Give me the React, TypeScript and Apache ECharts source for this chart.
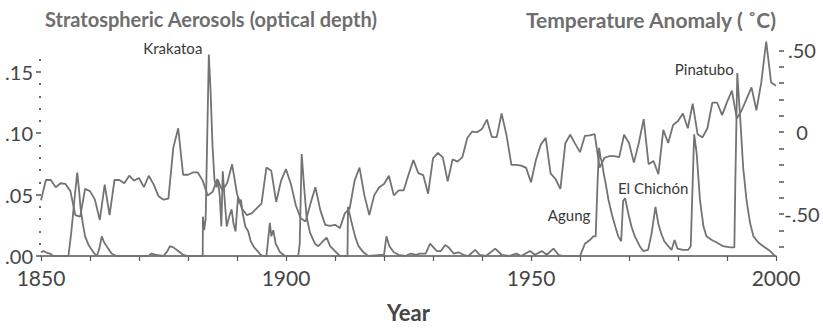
import React, { useEffect, useRef } from "react";
import * as echarts from "echarts";

// Global temperature anomaly (°C), one value per year from 1850 to 2000
const tempStartYear = 1850;
const temperature = [
  -0.416, -0.292, -0.292, -0.336, -0.312, -0.316, -0.36, -0.506, -0.516, -0.346,
  -0.36, -0.412, -0.536, -0.32, -0.506, -0.292, -0.292, -0.312, -0.266, -0.296,
  -0.28, -0.336, -0.266, -0.32, -0.392, -0.412, -0.406, -0.096, 0.024, -0.26,
  -0.26, -0.246, -0.246, -0.296, -0.386, -0.366, -0.286, -0.356, -0.31, -0.196,
  -0.376, -0.466, -0.506, -0.496, -0.466, -0.436, -0.216, -0.236, -0.426, -0.296,
  -0.226, -0.316, -0.446, -0.526, -0.546, -0.436, -0.336, -0.476, -0.566, -0.572,
  -0.566, -0.586, -0.496, -0.466, -0.296, -0.216, -0.386, -0.506, -0.386, -0.336,
  -0.316, -0.266, -0.386, -0.356, -0.356, -0.26, -0.17, -0.25, -0.262, -0.376,
  -0.16, -0.126, -0.154, -0.3, -0.166, -0.18, -0.152, -0.036, 0.004, 0.0,
  0.02, 0.077, -0.03, -0.03, 0.114, -0.018, -0.2, -0.2, -0.204, -0.218,
  -0.306, -0.17, -0.076, -0.034, -0.252, -0.286, -0.346, -0.068, -0.016, -0.07,
  -0.122, -0.022, -0.02, -0.012, -0.216, -0.156, -0.146, -0.146, -0.152, -0.016,
  -0.066, -0.186, -0.066, 0.08, -0.196, -0.176, -0.256, 0.014, -0.066, 0.044,
  0.068, 0.114, 0.024, 0.174, -0.012, -0.032, 0.024, 0.18, 0.18, 0.104,
  0.184, 0.254, 0.084, 0.134, 0.204, 0.274, 0.134, 0.304, 0.554, 0.304,
  0.284,
];

// Stratospheric aerosol optical depth, sampled unevenly in time
const aerosolYears = [
  1850.0, 1850.5, 1851.0, 1851.8, 1852.5, 1855.6, 1856.2, 1856.8, 1857.4, 1857.8,
  1858.1, 1858.6, 1859.0, 1859.7, 1860.7, 1861.4, 1861.9, 1862.4, 1862.9, 1863.4,
  1864.4, 1865.4, 1872.0, 1872.5, 1873.5, 1875.0, 1875.8, 1876.3, 1877.0, 1878.0,
  1879.0, 1880.0, 1883.0, 1883.05, 1883.3, 1883.6, 1884.25, 1884.6, 1885.0, 1885.4,
  1885.8, 1886.1, 1886.5, 1886.8, 1887.1, 1887.5, 1887.9, 1888.4, 1888.9, 1889.3,
  1889.7, 1890.2, 1890.5, 1890.8, 1891.2, 1891.7, 1892.3, 1892.8, 1893.5, 1894.2,
  1894.8, 1895.5, 1896.0, 1896.4, 1896.7, 1897.0, 1897.4, 1897.9, 1898.8, 1899.8,
  1902.5, 1902.8, 1903.2, 1903.7, 1904.2, 1904.9, 1905.9, 1906.6, 1907.3, 1908.3,
  1909.0, 1910.0, 1911.0, 1912.55, 1912.65, 1913.4, 1914.1, 1914.8, 1915.8, 1916.8,
  1920.0, 1920.5, 1921.1, 1922.0, 1923.0, 1924.3, 1925.5, 1926.5, 1927.3, 1928.5,
  1929.4, 1930.1, 1930.8, 1931.6, 1932.5, 1933.2, 1934.2, 1935.2, 1936.2, 1937.2,
  1938.6, 1939.5, 1940.8, 1942.7, 1944.0, 1945.5, 1947.0, 1948.0, 1949.8, 1950.8,
  1952.2, 1953.2, 1954.6, 1955.6, 1956.6, 1960.0, 1960.4, 1961.0, 1962.0, 1962.7,
  1963.2, 1963.6, 1963.9, 1964.2, 1964.5, 1964.8, 1965.2, 1965.8, 1966.5, 1967.2,
  1967.8, 1968.4, 1968.8, 1969.2, 1969.9, 1970.5, 1971.2, 1972.2, 1972.9, 1973.9,
  1974.6, 1975.4, 1976.0, 1976.6, 1977.2, 1978.0, 1978.7, 1979.3, 1979.9, 1981.0,
  1982.1, 1982.6, 1983.0, 1983.3, 1983.8, 1984.5, 1985.2, 1985.8, 1986.9, 1987.9,
  1989.2, 1990.6, 1991.5, 1991.7, 1992.1, 1992.4, 1992.7, 1993.3, 1994.0, 1994.7,
  1995.4, 1996.4, 1997.4, 1998.8, 1999.8, 2000.0,
];
const aerosolDepth = [
  0.003, 0.004, 0.003, 0.002, 0.0, 0.0, 0.02, 0.045, 0.068, 0.052,
  0.038, 0.025, 0.016, 0.009, 0.003, 0.0, 0.006, 0.016, 0.011, 0.008,
  0.002, 0.0, 0.0, 0.002, 0.001, 0.0, 0.004, 0.008, 0.007, 0.004,
  0.001, 0.0, 0.0, 0.032, 0.021, 0.03, 0.164, 0.135, 0.09, 0.062,
  0.056, 0.062, 0.048, 0.024, 0.069, 0.045, 0.024, 0.032, 0.038, 0.026,
  0.02, 0.048, 0.043, 0.046, 0.034, 0.024, 0.02, 0.012, 0.007, 0.004,
  0.001, 0.0, 0.0, 0.015, 0.027, 0.016, 0.021, 0.01, 0.003, 0.0,
  0.0, 0.01, 0.083, 0.056, 0.032, 0.019, 0.01, 0.008, 0.011, 0.015,
  0.008, 0.004, 0.0, 0.0, 0.04, 0.027, 0.016, 0.008, 0.003, 0.0,
  0.001, 0.016, 0.008, 0.003, 0.001, 0.0, 0.002, 0.001, 0.002, 0.002,
  0.01, 0.007, 0.004, 0.004, 0.009, 0.007, 0.002, 0.003, 0.001, 0.0,
  0.005, 0.001, 0.0, 0.006, 0.001, 0.0, 0.002, 0.0, 0.004, 0.001,
  0.004, 0.001, 0.006, 0.001, 0.0, 0.0, 0.004, 0.01, 0.013, 0.016,
  0.016, 0.062, 0.088, 0.08, 0.076, 0.068, 0.06, 0.046, 0.034, 0.024,
  0.016, 0.012, 0.045, 0.047, 0.034, 0.024, 0.016, 0.008, 0.004, 0.005,
  0.018, 0.04, 0.026, 0.018, 0.012, 0.008, 0.005, 0.013, 0.006, 0.005,
  0.005, 0.008, 0.06, 0.099, 0.084, 0.045, 0.024, 0.016, 0.013, 0.011,
  0.008, 0.007, 0.007, 0.06, 0.149, 0.13, 0.112, 0.072, 0.045, 0.027,
  0.016, 0.011, 0.008, 0.004, 0.0, 0.0,
];

// Named eruptions, placed at their aerosol peaks
const eruptionNames = ["Krakatoa", "Agung", "El Chichón", "Pinatubo"];
const eruptionYears = [1884.25, 1963.9, 1983.3, 1992.1];
const eruptionDepths = [0.164, 0.088, 0.099, 0.149];

// Axis ticks and labels
const yearTickStep = 10;
const yearLabelStep = 50;
const aerosolTicks = [0, 0.05, 0.1, 0.15];
const aerosolMinorTicks = [0.01, 0.02, 0.03, 0.04, 0.06, 0.07, 0.08, 0.09, 0.11, 0.12, 0.13, 0.14, 0.16];
const tempTicks = [-0.7, -0.6, -0.5, -0.4, -0.3, -0.2, -0.1, 0, 0.1, 0.2, 0.3, 0.4, 0.5];
const tempLabels = [-0.5, 0, 0.5];

// Layout (pixels) shared by both value axes
const PLOT_TOP = 30;
const PLOT_BOTTOM = 260;
const AEROSOL_PX_PER_UNIT = 1250;
const TEMP_ZERO_Y = 134;
const TEMP_PX_PER_UNIT = 166.6;

const aerosolMax = (PLOT_BOTTOM - PLOT_TOP) / AEROSOL_PX_PER_UNIT;
const tempMax = (TEMP_ZERO_Y - PLOT_TOP) / TEMP_PX_PER_UNIT;
const tempMin = -(PLOT_BOTTOM - TEMP_ZERO_Y) / TEMP_PX_PER_UNIT;

// label offsets from each eruption peak
const eruptionLabelOffsets: Record<string, [number, number]> = {
  Krakatoa: [-36, -7],
  Agung: [-30, 67],
  "El Chichón": [-41, 54],
  Pinatubo: [-33, -4],
};

const FONT = "Lato, 'Open Sans', sans-serif";
const LINE_COLOR = "#737373";
const AXIS_COLOR = "#555555";
const LABEL_COLOR = "#454545";
const TITLE_COLOR = "#6e6e6e";

function fmtAerosol(v: number): string {
  const hundredths = Math.round(v * 100);
  return "." + String(hundredths).padStart(2, "0");
}

function fmtTemp(v: number): string {
  if (Math.abs(v) < 1e-9) return "0";
  const hundredths = Math.round(Math.abs(v) * 100);
  return (v < 0 ? "-" : "") + "." + String(hundredths).padStart(2, "0");
}

function titleRich(size: number) {
  return {
    b: { fontFamily: FONT, fontWeight: "bold", fontSize: size, color: TITLE_COLOR },
    n: { fontFamily: FONT, fontSize: size, color: TITLE_COLOR },
  };
}

export default function App() {
  const ref = useRef<HTMLDivElement>(null);

  useEffect(() => {
    if (!ref.current) return;
    const chart = echarts.init(ref.current, null, { renderer: "svg" });

    const tempData = temperature.map((t, i) => [tempStartYear + i, t]);
    const aerosolData = aerosolYears.map((y, i) => [y, aerosolDepth[i]]);

    const markData = eruptionNames.map((name, i) => ({
      name,
      coord: [eruptionYears[i], eruptionDepths[i]],
      label: { offset: eruptionLabelOffsets[name] },
    }));

    const option: any = {
      animation: false,
      backgroundColor: "#ffffff",
      textStyle: { fontFamily: FONT },
      title: [
        {
          text: "{b|Stratospheric Aerosols} {n|(optical depth)}",
          left: 40,
          top: 4,
          textStyle: { rich: titleRich(20) },
        },
        {
          text: "{b|Temperature Anomaly} {n|( ˚C)}",
          right: 42,
          top: 4,
          textStyle: { rich: titleRich(21) },
        },
      ],
      grid: { left: 41, right: 47, top: PLOT_TOP, bottom: 328 - PLOT_BOTTOM },
      xAxis: {
        type: "value",
        min: 1850,
        max: 2000,
        interval: yearTickStep,
        axisLine: { lineStyle: { color: AXIS_COLOR, width: 1.5 } },
        axisTick: { length: 5, lineStyle: { color: AXIS_COLOR, width: 1.2 } },
        axisLabel: {
          formatter: (v: number) => (v % yearLabelStep === 0 ? String(v) : ""),
          fontFamily: FONT,
          fontSize: 21,
          color: LABEL_COLOR,
          margin: 11,
        },
        splitLine: { show: false },
        name: "Year",
        nameLocation: "middle",
        nameGap: 45,
        nameTextStyle: { fontFamily: FONT, fontWeight: "bold", fontSize: 22, color: LABEL_COLOR },
      },
      yAxis: [
        {
          type: "value",
          position: "left",
          min: 0,
          max: aerosolMax,
          axisLine: { show: false },
          splitLine: { show: false },
          axisTick: {
            show: true,
            length: 5,
            customValues: aerosolTicks,
            lineStyle: { color: AXIS_COLOR, width: 1.5 },
          },
          axisLabel: {
            customValues: aerosolTicks,
            formatter: fmtAerosol,
            fontFamily: FONT,
            fontSize: 20,
            color: LABEL_COLOR,
            margin: 8,
          },
        },
        {
          type: "value",
          position: "right",
          offset: 3,
          min: tempMin,
          max: tempMax,
          axisLine: { show: false },
          splitLine: { show: false },
          axisTick: {
            show: true,
            length: 5,
            customValues: tempTicks,
            lineStyle: { color: AXIS_COLOR, width: 1.5 },
          },
          axisLabel: {
            customValues: tempLabels,
            formatter: fmtTemp,
            align: "center",
            fontFamily: FONT,
            fontSize: 20,
            color: LABEL_COLOR,
            margin: 23,
          },
        },
        {
          type: "value",
          position: "left",
          min: 0,
          max: aerosolMax,
          axisLine: { show: false },
          splitLine: { show: false },
          axisLabel: { show: false },
          axisTick: {
            show: true,
            length: 2,
            customValues: aerosolMinorTicks,
            lineStyle: { color: "#666666", width: 2 },
          },
        },
      ],
      series: [
        {
          name: "Stratospheric Aerosols",
          type: "line",
          yAxisIndex: 0,
          data: aerosolData,
          showSymbol: false,
          lineStyle: { color: LINE_COLOR, width: 1.8 },
          itemStyle: { color: LINE_COLOR },
          markPoint: {
            symbol: "circle",
            symbolSize: 1,
            itemStyle: { color: "rgba(0,0,0,0)" },
            label: {
              show: true,
              position: "inside",
              formatter: "{b}",
              fontFamily: FONT,
              fontSize: 15,
              color: "#383838",
            },
            data: markData,
          },
        },
        {
          name: "Temperature Anomaly",
          type: "line",
          yAxisIndex: 1,
          data: tempData,
          showSymbol: false,
          lineStyle: { color: LINE_COLOR, width: 1.8 },
          itemStyle: { color: LINE_COLOR },
        },
      ],
    };

    chart.setOption(option);
    return () => chart.dispose();
  }, []);

  return <div ref={ref} style={{ width: 823, height: 328, position: "absolute", left: 0, top: 0 }} />;
}
